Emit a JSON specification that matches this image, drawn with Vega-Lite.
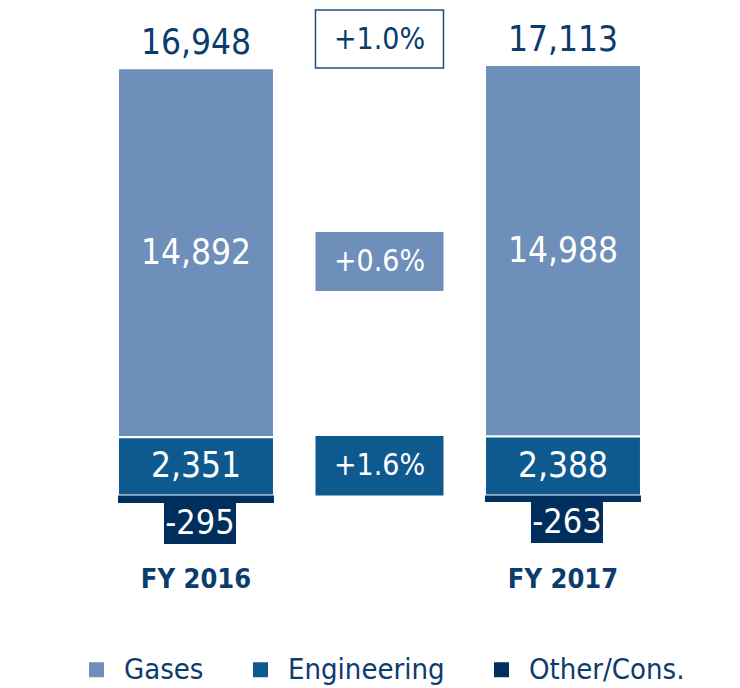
{
  "$schema": "https://vega.github.io/schema/vega-lite/v6.json",
  "width": 728,
  "height": 560,
  "autosize": {"type": "none"},
  "padding": {"left": 12, "top": 0, "right": 0, "bottom": 128},
  "config": {
    "view": {"stroke": null},
    "text": {"font": "DejaVu Sans Condensed, sans-serif"}
  },
  "datasets": {
    "segments": [
      {"year": "FY 2016", "segment": "Gases", "value": 14892, "ord": 2},
      {"year": "FY 2016", "segment": "Engineering", "value": 2351, "ord": 1},
      {"year": "FY 2016", "segment": "Other/Cons.", "value": -295, "ord": 0},
      {"year": "FY 2017", "segment": "Gases", "value": 14988, "ord": 2},
      {"year": "FY 2017", "segment": "Engineering", "value": 2388, "ord": 1},
      {"year": "FY 2017", "segment": "Other/Cons.", "value": -263, "ord": 0}
    ],
    "changes": [
      {"year": "Change", "label": "+1.0%", "segment": "Total", "lo": 17260, "hi": 19600},
      {"year": "Change", "label": "+0.6%", "segment": "Gases", "lo": 8255, "hi": 10635},
      {"year": "Change", "label": "+1.6%", "segment": "Engineering", "lo": 0, "hi": 2400}
    ]
  },
  "encoding": {
    "x": {
      "field": "year",
      "type": "nominal",
      "sort": null,
      "scale": {"domain": ["FY 2016", "Change", "FY 2017"], "paddingInner": 0.15, "paddingOuter": 0.5587, "align": 0.517},
      "axis": {
        "title": null,
        "domain": false,
        "ticks": false,
        "labelAngle": 0,
        "labelExpr": "datum.value == 'Change' ? '' : datum.value",
        "labelFont": "DejaVu Sans Condensed, sans-serif",
        "labelFontSize": 27,
        "labelFontWeight": "bold",
        "labelColor": "#0b3c6e",
        "labelPadding": 6
      }
    }
  },
  "layer": [
    {
      "data": {"name": "segments"},
      "mark": {"type": "bar", "stroke": "white"},
      "encoding": {
        "y": {"field": "value", "type": "quantitative", "stack": "zero", "scale": {"domain": [-2600, 20000], "nice": false, "zero": false}, "axis": null},
        "order": {"field": "ord", "type": "quantitative"},
        "strokeWidth": {"condition": {"test": "datum.value < 0", "value": 0}, "value": 2},
        "color": {
          "field": "segment",
          "type": "nominal",
          "scale": {"domain": ["Gases", "Engineering", "Other/Cons."], "range": ["#6d8fba", "#0e5a8f", "#002f5e"]},
          "legend": {
            "orient": "none",
            "legendX": 70,
            "legendY": 655,
            "direction": "horizontal",
            "title": null,
            "symbolType": "square",
            "symbolSize": 225,
            "symbolStrokeWidth": 0,
            "symbolOpacity": 1,
            "labelFont": "DejaVu Sans Condensed, sans-serif",
            "labelFontSize": 29,
            "labelColor": "#0b3c6e",
            "labelLimit": 0,
            "labelOffset": 13,
            "columnPadding": 42,
            "padding": 0
          }
        }
      }
    },
    {
      "data": {"name": "changes"},
      "transform": [{"filter": "datum.segment != 'Total'"}],
      "mark": {"type": "bar", "width": 128},
      "encoding": {
        "y": {"field": "lo", "type": "quantitative"},
        "y2": {"field": "hi"},
        "color": {"field": "segment", "type": "nominal"}
      }
    },
    {
      "data": {"name": "changes"},
      "transform": [{"filter": "datum.segment == 'Total'"}],
      "mark": {"type": "bar", "width": 128, "fill": "white", "stroke": "#1f4e7d", "strokeWidth": 1.5},
      "encoding": {
        "y": {"field": "lo", "type": "quantitative"},
        "y2": {"field": "hi"}
      }
    },
    {
      "data": {"name": "changes"},
      "mark": {"type": "text", "fontSize": 30, "baseline": "middle", "dy": 30},
      "encoding": {
        "y": {"field": "hi", "type": "quantitative"},
        "text": {"field": "label"},
        "color": {"condition": {"test": "datum.segment == 'Total'", "value": "#0b3c6e"}, "value": "white"}
      }
    },
    {
      "data": {"name": "segments"},
      "transform": [
        {"filter": "datum.value > 0"},
        {"window": [{"op": "sum", "field": "value", "as": "cum"}], "groupby": ["year"], "sort": [{"field": "ord"}], "frame": [null, 0]},
        {"calculate": "datum.cum - datum.value / 2", "as": "mid"}
      ],
      "mark": {"type": "text", "fontSize": 35, "baseline": "middle", "color": "white"},
      "encoding": {
        "y": {"field": "mid", "type": "quantitative"},
        "text": {"field": "value", "format": ","}
      }
    },
    {
      "data": {"name": "segments"},
      "transform": [{"filter": "datum.value < 0"}],
      "mark": {"type": "bar", "width": 72, "xOffset": 4, "y2Offset": 41, "color": "#002f5e"},
      "encoding": {
        "y": {"field": "value", "type": "quantitative"},
        "y2": {"field": "value"}
      }
    },
    {
      "data": {"name": "segments"},
      "transform": [{"filter": "datum.value < 0"}],
      "mark": {"type": "text", "fontSize": 34, "baseline": "middle", "dy": 21, "dx": 4, "color": "white"},
      "encoding": {
        "y": {"field": "value", "type": "quantitative"},
        "text": {"field": "value", "type": "nominal"}
      }
    },
    {
      "data": {"name": "segments"},
      "transform": [
        {"joinaggregate": [{"op": "sum", "field": "value", "as": "total"}], "groupby": ["year"]},
        {"filter": "datum.value > 0"},
        {"joinaggregate": [{"op": "sum", "field": "value", "as": "top"}], "groupby": ["year"]},
        {"filter": "datum.segment == 'Gases'"}
      ],
      "mark": {"type": "text", "fontSize": 35, "baseline": "alphabetic", "dy": -14, "color": "#0b3c6e"},
      "encoding": {
        "y": {"field": "top", "type": "quantitative"},
        "text": {"field": "total", "format": ","}
      }
    },
    {
      "data": {"values": [{}]},
      "mark": {"type": "rule", "color": "#0b3a6b", "strokeWidth": 2},
      "encoding": {"y": {"datum": 0}}
    }
  ]
}
